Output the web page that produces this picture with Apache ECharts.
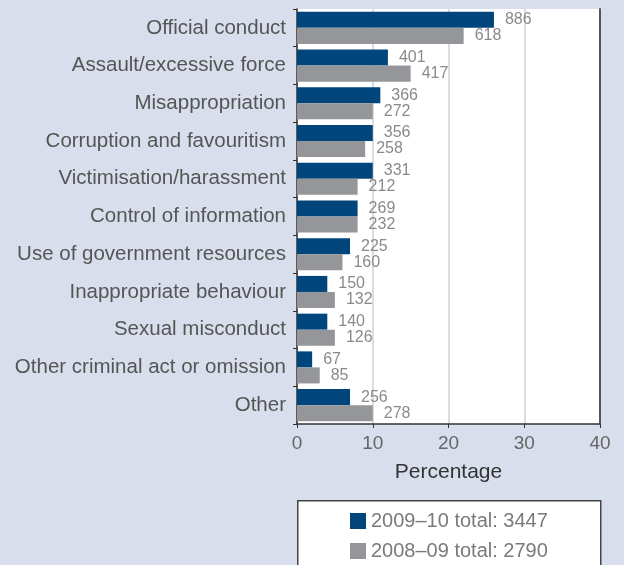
<!DOCTYPE html>
<html>
<head>
<meta charset="utf-8">
<script src="https://cdn.jsdelivr.net/npm/echarts@6/dist/echarts.min.js"></script>
<style>
  html, body { margin: 0; padding: 0; background: #d8deeb; }
  #chart { width: 624px; height: 565px; }
</style>
</head>
<body>
<div id="chart"></div>
<script>
// Complaint categories, top to bottom
const categories = [
  'Official conduct',
  'Assault/excessive force',
  'Misappropriation',
  'Corruption and favouritism',
  'Victimisation/harassment',
  'Control of information',
  'Use of government resources',
  'Inappropriate behaviour',
  'Sexual misconduct',
  'Other criminal act or omission',
  'Other'
];

// Number of allegations per category
const counts2009 = [886, 401, 366, 356, 331, 269, 225, 150, 140, 67, 256];
const counts2008 = [618, 417, 272, 258, 212, 232, 160, 132, 126, 85, 278];

// Yearly totals shown in the legend
const total2009 = 3447;
const total2008 = 2790;

const seriesNames = ['2009\u201310 total: ' + total2009, '2008\u201309 total: ' + total2008];
const xTicks = [0, 10, 20, 30, 40];

// Bars show the share of the year's total, rounded to whole percent
function toPercent(counts, total) {
  return counts.map(c => Math.round(c / total * 100));
}

function seriesData(counts, total) {
  const pct = toPercent(counts, total);
  return counts.map((c, i) => ({ value: pct[i], count: c }));
}

const FONT = 'Liberation Sans, Arial, Helvetica, sans-serif';

const chart = echarts.init(document.getElementById('chart'), null, { renderer: 'canvas' });

const labelStyle = {
  show: true,
  position: 'right',
  distance: 11,
  color: '#8a8a8c',
  fontSize: 16,
  fontFamily: FONT,
  formatter: p => p.data.count
};

// One legend block per series, stacked inside the white box
function legendFor(name, top) {
  return {
    orient: 'vertical',
    left: 350,
    top: top,
    itemWidth: 16,
    itemHeight: 16,
    itemGap: 8,
    icon: 'rect',
    padding: 0,
    textStyle: { fontSize: 20, color: '#7a7a7c', fontFamily: FONT },
    data: [name]
  };
}

chart.setOption({
  backgroundColor: '#d8deeb',
  animation: false,
  textStyle: { fontFamily: FONT },
  graphic: [{
    type: 'rect',
    left: 297, top: 500,
    shape: { width: 303, height: 80 },
    style: { fill: '#ffffff', stroke: '#444', lineWidth: 1.5 },
    z: 0
  }],
  legend: [legendFor(seriesNames[0], 511), legendFor(seriesNames[1], 541)],
  grid: {
    left: 297, right: 24, top: 9, bottom: 141,
    containLabel: false,
    show: true, backgroundColor: '#ffffff', borderWidth: 0
  },
  xAxis: {
    type: 'value',
    min: 0, max: 40, interval: 10,
    name: 'Percentage',
    nameLocation: 'middle',
    nameGap: 38,
    nameTextStyle: { fontSize: 21, color: '#333', fontFamily: FONT },
    axisLine: { show: true, lineStyle: { color: '#333', width: 1.5 } },
    axisTick: { show: true, length: 4, lineStyle: { color: '#333' } },
    axisLabel: {
      fontSize: 19, color: '#666', margin: 10, fontFamily: FONT,
      formatter: v => (xTicks.indexOf(v) >= 0 ? String(v) : '')
    },
    splitLine: { show: true, lineStyle: { color: '#d0d0d0', width: 1.5 } }
  },
  yAxis: [{
    type: 'category',
    data: categories,
    inverse: true,
    axisLine: { show: true, lineStyle: { color: '#333', width: 1.5 } },
    axisTick: { show: true, length: 4, lineStyle: { color: '#333' } },
    axisLabel: { fontSize: 20.5, color: '#555', margin: 11, fontFamily: FONT }
  }, {
    type: 'category',
    data: categories,
    inverse: true,
    position: 'right',
    axisLine: { show: true, lineStyle: { color: '#555', width: 2 } },
    axisTick: { show: false },
    axisLabel: { show: false }
  }],
  series: [{
    name: seriesNames[0],
    type: 'bar',
    data: seriesData(counts2009, total2009),
    itemStyle: { color: '#00457b' },
    barGap: '0%',
    barCategoryGap: '15%',
    label: labelStyle
  }, {
    name: seriesNames[1],
    type: 'bar',
    data: seriesData(counts2008, total2008),
    itemStyle: { color: '#959699' },
    barGap: '0%',
    barCategoryGap: '15%',
    label: labelStyle
  }]
});
</script>
</body>
</html>
